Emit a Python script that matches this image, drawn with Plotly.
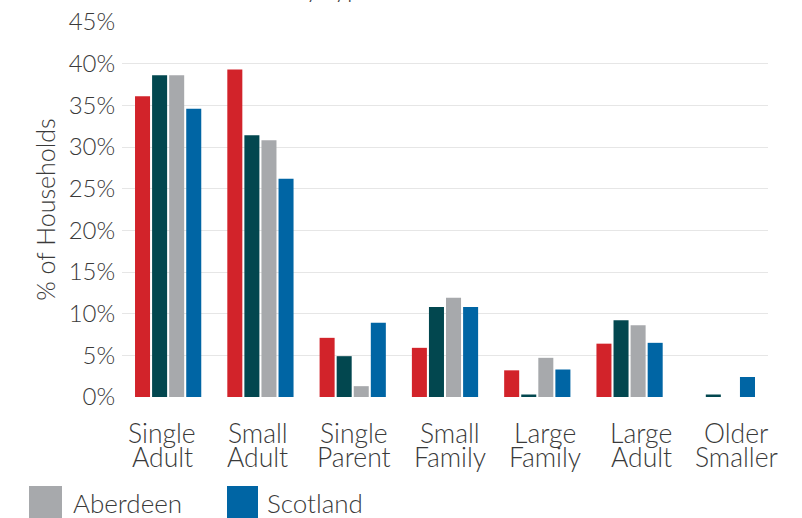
import plotly.graph_objects as go

categories = ["Single Adult", "Small Adult", "Single Parent", "Small Family",
              "Large Family", "Large Adult", "Older Smaller"]
series_names = ["Locality", "Ward", "Aberdeen", "Scotland"]
locality = [36.1, 39.3, 7.1, 5.9, 3.2, 6.4, 0.0]
ward = [38.6, 31.4, 4.9, 10.8, 0.3, 9.2, 0.3]
aberdeen = [38.6, 30.8, 1.3, 11.9, 4.7, 8.6, 0.0]
scotland = [34.6, 26.2, 8.9, 10.8, 3.3, 6.5, 2.4]
colors = ["#d2232a", "#02474f", "#a7a9ac", "#0065a4"]
legend_names = ["Aberdeen", "Scotland"]
legend_colors = ["#a7a9ac", "#0065a4"]

FONT = "Lato"
WEIGHT = 300
TXT = "#3a3a3a"

W, H = 802, 518
L, R, T, B = 122, 34, 22, 121
PW, PH = W - L - R, H - T - B

# category labels in the reference are spread slightly wider than the bar groups
LABEL_SPREAD = 1.038
LABEL_OFFSET = -0.065

def px(x):
    return (x - L) / PW

def py(y):
    return 1 - (y - T) / PH

fig = go.Figure()
for name, vals, c in zip(series_names, [locality, ward, aberdeen, scotland], colors):
    fig.add_trace(go.Bar(x=categories, y=vals, name=name, marker=dict(color=c, line=dict(width=0)),
                         showlegend=False))

fig.update_layout(
    width=W, height=H,
    margin=dict(l=L, r=R, t=T, b=B, autoexpand=False),
    paper_bgcolor="white", plot_bgcolor="white",
    barmode="group", bargap=0.26, bargroupgap=0.12,
    font=dict(family=FONT, color=TXT, size=24, weight=WEIGHT),
)
fig.update_yaxes(
    range=[0, 45], dtick=5, ticksuffix="%", showgrid=True, gridcolor="#e6e6e6", gridwidth=1,
    zeroline=False, showline=False, ticks="outside", ticklen=1, tickcolor="rgba(0,0,0,0)",
    tickfont=dict(size=24, color=TXT, weight=WEIGHT),
    title=dict(text="% of Households", font=dict(size=25, color=TXT, weight=WEIGHT), standoff=5),
    automargin=False,
)
fig.update_xaxes(showgrid=False, showline=False, zeroline=False, showticklabels=False,
                 automargin=False, range=[-0.5, len(categories) - 0.5])

# two-line category labels (tight line spacing, as in the reference)
for i, cat in enumerate(categories):
    first, second = cat.split(" ", 1)
    xpos = i * LABEL_SPREAD + LABEL_OFFSET
    for word, yc in ((first, 433), (second, 457)):
        fig.add_annotation(text=word, xref="x", yref="paper", x=xpos, y=py(yc),
                           xanchor="center", yanchor="middle", showarrow=False,
                           font=dict(size=26.5, color=TXT, family=FONT, weight=WEIGHT))

# partially visible title at the very top
fig.add_annotation(text="Households by type", xref="paper", yref="paper",
                   x=px(150), y=py(5), xanchor="left", yanchor="bottom",
                   showarrow=False, font=dict(size=26, color=TXT, family=FONT, weight=WEIGHT))

# legend
sw = [(29, 62), (227, 258)]
tx = [71, 265]
for (x0, x1), t, name, c in zip(sw, tx, legend_names, legend_colors):
    fig.add_shape(type="rect", xref="paper", yref="paper", x0=px(x0), x1=px(x1),
                  y0=py(518), y1=py(486), fillcolor=c, line=dict(width=0))
    fig.add_annotation(text=name, xref="paper", yref="paper", x=px(t), y=py(503),
                       xanchor="left", yanchor="middle", showarrow=False,
                       font=dict(size=26, color=TXT, family=FONT, weight=WEIGHT))

fig.write_html("out.html")
